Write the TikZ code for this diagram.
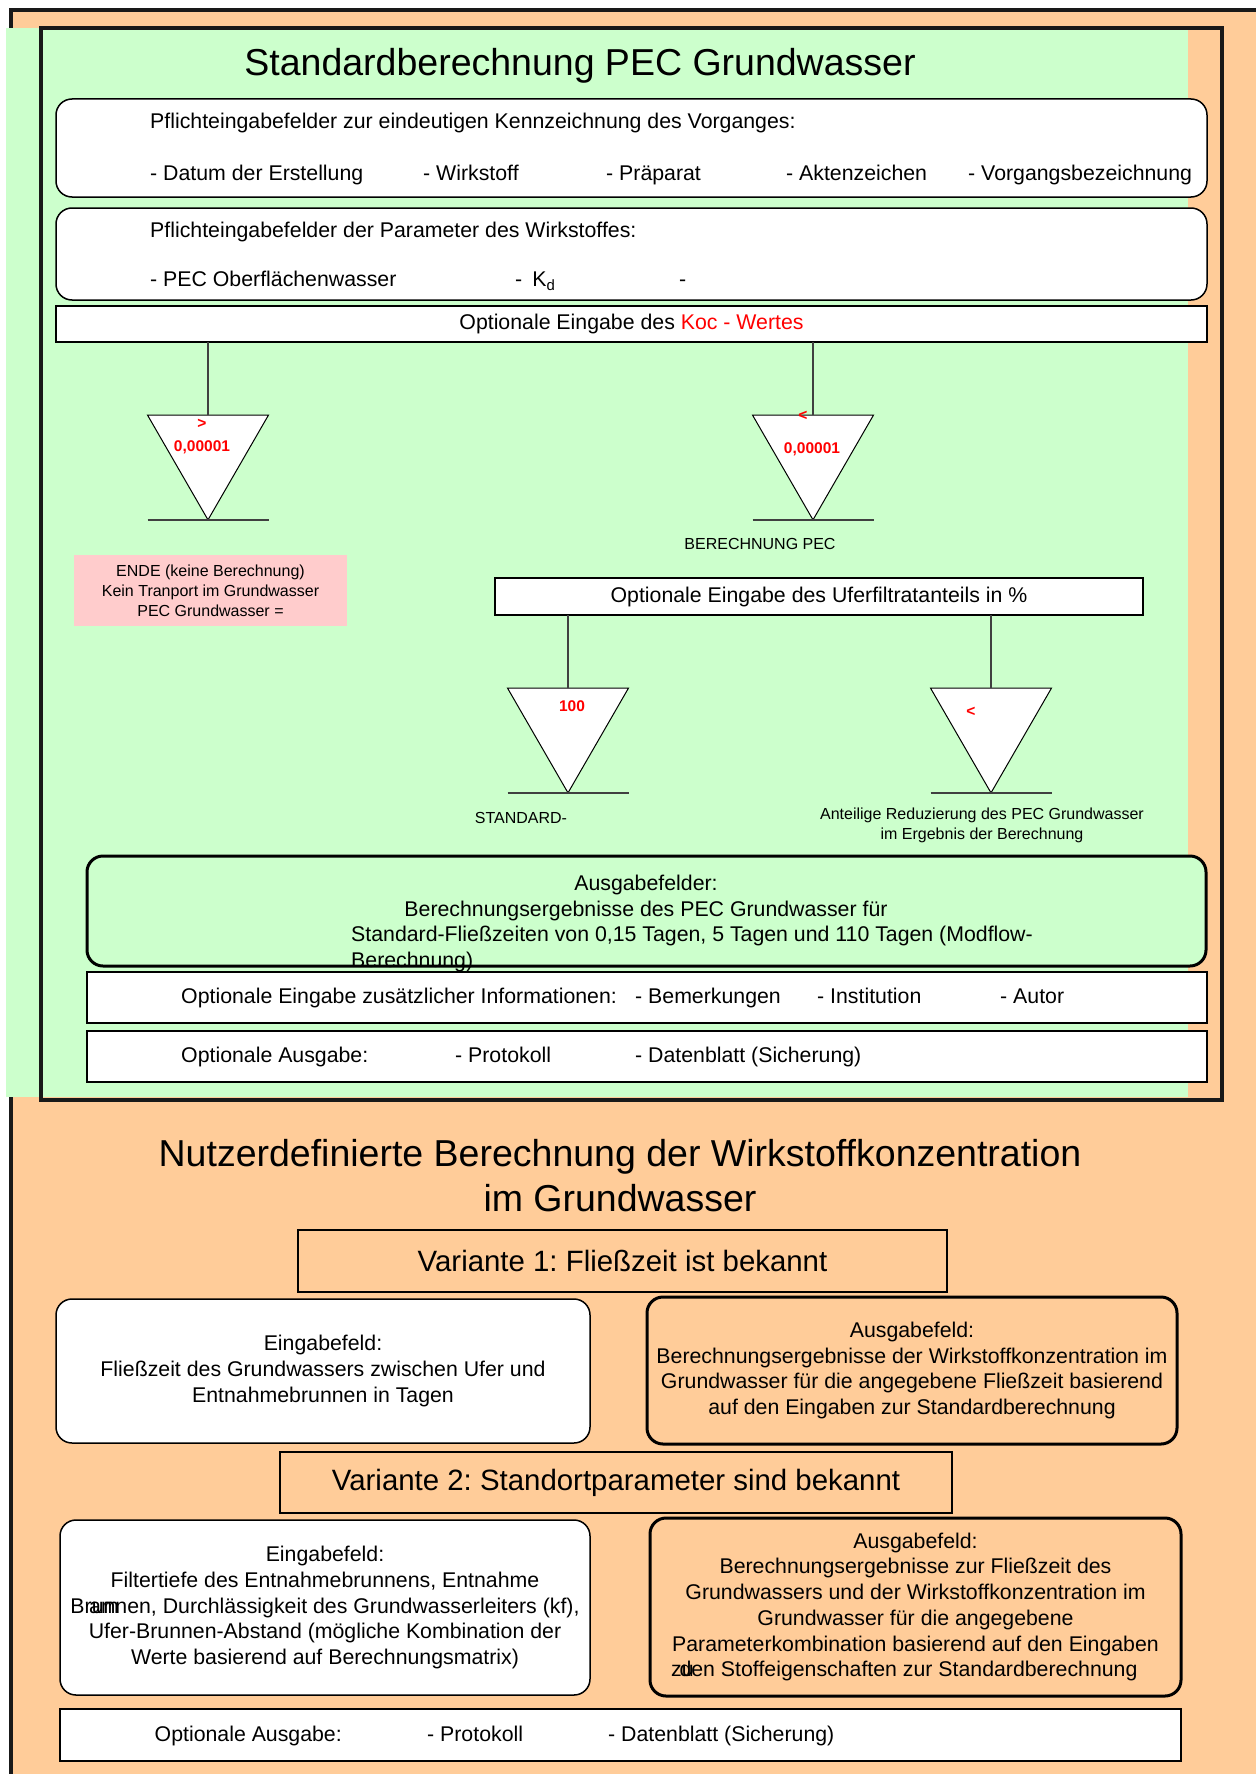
\documentclass[tikz,border=0pt]{standalone}
\usepackage{fontspec}
\setmainfont{Liberation Sans}
\usetikzlibrary{shapes.geometric}
\definecolor{gruen}{HTML}{CCFFCC}
\definecolor{apricot}{HTML}{FFCC99}
\definecolor{rosa}{HTML}{FFCCCC}
\frenchspacing

\begin{document}
\begin{tikzpicture}[x=1pt,y=-1pt,
  lab/.style={font=\fontsize{21.3}{25.7}\selectfont,inner sep=0pt,text height=15.5pt,text depth=4.5pt},
  txt/.style={font=\fontsize{21.3}{25.7}\selectfont,inner sep=0pt,align=center},
  klein/.style={font=\fontsize{16}{20}\selectfont,inner sep=0pt,align=center},
  rot/.style={font=\fontsize{15.5}{18}\selectfont\bfseries,text=red,inner sep=0pt},
  feld/.style={draw,line width=1.5pt,rounded corners=16pt,fill=white,inner sep=0pt,outer sep=0pt},
  aus/.style={draw,line width=3pt,rounded corners=16pt,inner sep=0pt,outer sep=0pt},
  zeile/.style={draw,line width=1.5pt,fill=white,inner sep=0pt,outer sep=0pt},
  var/.style={draw,line width=2pt,fill=apricot,inner sep=0pt,outer sep=0pt,font=\fontsize{29.4}{35}\selectfont},
  tri/.style={regular polygon,regular polygon sides=3,shape border rotate=180,draw,line width=1pt,fill=white,minimum size=139.7pt,inner sep=0pt,outer sep=0pt},
  wire/.style={line width=1.5pt,black!75}]
\useasboundingbox (0,0) rectangle (1255,1774);
% Aussenrahmen
\draw[line width=4pt,black!90,fill=apricot] (11,10) rectangle (1270,1790);
% Standardberechnung
\fill[gruen] (6,28) rectangle (1188,1097);
\draw[line width=4pt,black!90] (41,28) rectangle (1222,1100);
\node[font=\fontsize{37.5}{45}\selectfont,inner sep=0pt] (titel) at (580,66) {Standardberechnung PEC Grundwasser};
\node[feld,minimum width=1151,minimum height=98] (pf1) at (631.5,148) {};
\node[lab,anchor=west] (pf1a) at (150,123) {Pflichteingabefelder zur eindeutigen Kennzeichnung des Vorganges:};
\node[lab,anchor=west] (datum) at (150,175) {- Datum der Erstellung};
\node[lab,anchor=west] (wirk) at (423,175) {- Wirkstoff};
\node[lab,anchor=west] (praep) at (606,175) {- Präparat};
\node[lab,anchor=west] (akten) at (786,175) {- Aktenzeichen};
\node[lab,anchor=west] (vorg) at (968,175) {- Vorgangsbezeichnung};
\node[feld,minimum width=1151,minimum height=92] (pf2) at (631.5,254) {};
\node[lab,anchor=west] (pf2a) at (150,232) {Pflichteingabefelder der Parameter des Wirkstoffes:};
\node[lab,anchor=west] (pecow) at (150,281) {- PEC Oberflächenwasser};
\node[lab,anchor=west] (kd) at (515,281) {-\hspace{10pt}K\textsubscript{d}};
\node[lab,anchor=west] (strich) at (679,281) {-};
\node[zeile,lab,minimum width=1151,minimum height=36] (koc) at (631.5,324) {Optionale Eingabe des \textcolor{red}{Koc - Wertes}};
% Koc-Verzweigung
\node[tri] (t1) at (208,450) {};
\node[tri] (t2) at (813,450) {};
\draw[wire] (t1.north |- koc.south) -- (t1.north);
\draw[wire] (t2.north |- koc.south) -- (t2.north);
\draw[wire] ([xshift=-60.5pt]t1.corner 1) -- ([xshift=60.5pt]t1.corner 1);
\draw[wire] ([xshift=-60.5pt]t2.corner 1) -- ([xshift=60.5pt]t2.corner 1);
\node[rot] (gr1) at (202,424) {>};
\node[rot] (wert1) at (202,447) {0,00001};
\node[rot] (kl1) at (803,416) {<};
\node[rot] (wert2) at (812,449) {0,00001};
\node[klein,fill=rosa,minimum width=273,minimum height=71] (ende) at (210.5,590.5) {ENDE (keine Berechnung)\\Kein Tranport im Grundwasser\\PEC Grundwasser =};
\node[klein] (berech) at (760,544) {BERECHNUNG PEC};
% Uferfiltrat
\node[zeile,lab,minimum width=648,minimum height=37] (ufer) at (819,596.5) {Optionale Eingabe des Uferfiltratanteils in \%};
\node[tri] (t3) at (568,723) {};
\node[tri] (t4) at (991,723) {};
\draw[wire] (t3.north |- ufer.south) -- (t3.north);
\draw[wire] (t4.north |- ufer.south) -- (t4.north);
\draw[wire] ([xshift=-60.5pt]t3.corner 1) -- ([xshift=60.5pt]t3.corner 1);
\draw[wire] ([xshift=-60.5pt]t4.corner 1) -- ([xshift=60.5pt]t4.corner 1);
\node[rot] (hundert) at (572,706) {100};
\node[rot] (kl2) at (971,712) {<};
\node[klein] (std) at (521,818) {STANDARD-};
\node[klein] (anteil) at (982,825) {Anteilige Reduzierung des PEC Grundwasser\\im Ergebnis der Berechnung};
% Ausgabefelder
\node[aus,fill=gruen,minimum width=1119,minimum height=110] (ausgabe) at (646.5,911) {};
\node[txt] (ausgabea) at (646,898) {Ausgabefelder:\\Berechnungsergebnisse des PEC Grundwasser für};
\node[txt,align=left,anchor=west] (ausgabeb) at (351,949) {Standard-Fließzeiten von 0,15 Tagen, 5 Tagen und 110 Tagen (Modflow-\\Berechnung)};
\node[zeile,minimum width=1120,minimum height=51] (info) at (647,997.5) {};
\node[lab,anchor=west] (infoa) at (181,998) {Optionale Eingabe zusätzlicher Informationen:};
\node[lab,anchor=west] (bem) at (635,998) {- Bemerkungen};
\node[lab,anchor=west] (inst) at (817,998) {- Institution};
\node[lab,anchor=west] (autor) at (1000,998) {- Autor};
\node[zeile,minimum width=1120,minimum height=51] (optaus) at (647,1056.5) {};
\node[lab,anchor=west] (optausa) at (181,1057) {Optionale Ausgabe:};
\node[lab,anchor=west] (prot) at (455,1057) {- Protokoll};
\node[lab,anchor=west] (daten) at (635,1057) {- Datenblatt (Sicherung)};
% Nutzerdefinierte Berechnung
\node[font=\fontsize{37.5}{45}\selectfont,align=center,inner sep=0pt] (titel2) at (620,1175.5) {Nutzerdefinierte Berechnung der Wirkstoffkonzentration\\im Grundwasser};
\node[var,minimum width=649,minimum height=62] (var1) at (622.5,1261) {Variante 1: Fließzeit ist bekannt};
\node[feld,txt,minimum width=534,minimum height=144] (ein1) at (323,1371) {Eingabefeld:\\Fließzeit des Grundwassers zwischen Ufer und\\Entnahmebrunnen in Tagen};
\node[aus,txt,fill=apricot,minimum width=530,minimum height=147] (aus1) at (912,1370.5) {Ausgabefeld:\\Berechnungsergebnisse der Wirkstoffkonzentration im\\Grundwasser für die angegebene Fließzeit basierend\\auf den Eingaben zur Standardberechnung};
\node[var,minimum width=672,minimum height=61] (var2) at (616,1482.5) {Variante 2: Standortparameter sind bekannt};
\node[feld,txt,minimum width=530,minimum height=175] (ein2) at (325,1607.5) {Eingabefeld:\\Filtertiefe des Entnahmebrunnens, Entnahme\hspace*{34pt}\\Brunnen, Durchlässigkeit des Grundwasserleiters (kf),\\Ufer-Brunnen-Abstand (mögliche Kombination der\\Werte basierend auf Berechnungsmatrix)};
\node[lab,anchor=west] (am) at (89,1608) {am};
\node[aus,txt,fill=apricot,minimum width=531,minimum height=178] (aus2) at (915.5,1607) {Ausgabefeld:\\Berechnungsergebnisse zur Fließzeit des\\Grundwassers und der Wirkstoffkonzentration im\\Grundwasser für die angegebene\\Parameterkombination basierend auf den Eingaben\\den Stoffeigenschaften zur Standardberechnung\hspace*{14pt}};
\node[lab,anchor=west] (zu) at (671,1671) {zu};
\node[zeile,minimum width=1121,minimum height=52] (optaus2) at (620.5,1735) {};
\node[lab,anchor=west] (optaus2a) at (154.5,1736) {Optionale Ausgabe:};
\node[lab,anchor=west] (prot2) at (427,1736) {- Protokoll};
\node[lab,anchor=west] (daten2) at (608,1736) {- Datenblatt (Sicherung)};
\end{tikzpicture}
\end{document}
